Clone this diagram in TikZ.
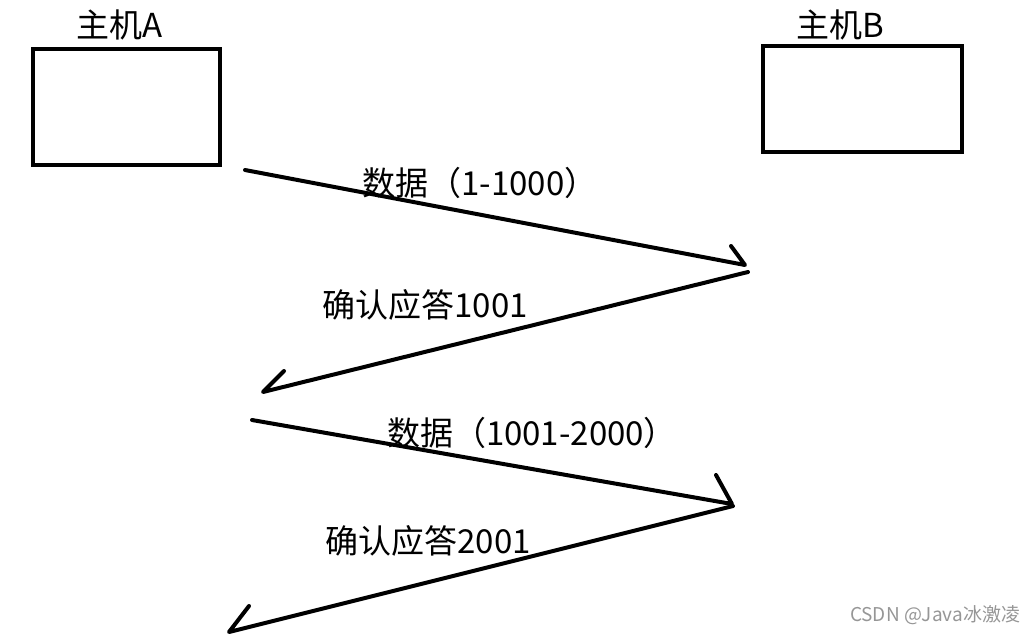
\documentclass[tikz,border=0pt]{standalone}
\usepackage{fontspec}
\setmainfont{Noto Sans CJK SC}
\definecolor{MarkGray}{RGB}{150,150,150}

\begin{document}
\begin{tikzpicture}[x=1pt, y=-1pt,
  host/.style={draw, line width=4pt, inner sep=0pt},
  lbl/.style={font=\fontsize{33}{37}\selectfont, inner sep=0pt},
  msg/.style={line width=4pt, line cap=round, line join=round}]
\useasboundingbox (0,0) rectangle (1033,635);

% hosts
\node[host, minimum width=187pt, minimum height=116pt] (hostA) at (126.5,107) {};
\node[host, minimum width=199pt, minimum height=106pt] (hostB) at (862.5,99) {};
\node[lbl] (nameA) at (120,25) {主机A};
\node[lbl] (nameB) at (840,25) {主机B};

% data 1-1000
\coordinate (s1) at (245,170);
\coordinate (t1) at (745,265);
\coordinate (b1) at (731,246);
\draw[msg] (s1) -- (t1) -- (b1);
\node[lbl] (data1) at (480,183) {数据（1-1000）};

% ack 1001
\coordinate (s2) at (748,272);
\coordinate (t2) at (263,392);
\coordinate (b2) at (284,371);
\draw[msg] (s2) -- (t2) -- (b2);
\node[lbl] (ack1) at (425,305) {确认应答1001};

% data 1001-2000
\coordinate (s3) at (252,420);
\coordinate (t3) at (732,504);
\coordinate (b3) at (716,475);
\draw[msg] (s3) -- (t3) -- (b3);
\node[lbl] (data2) at (532,433) {数据（1001-2000）};

% ack 2001
\coordinate (s4) at (733,506);
\coordinate (t4) at (229,632);
\coordinate (b4) at (249,606);
\draw[msg] (s4) -- (t4) -- (b4);
\node[lbl] (ack2) at (428,541) {确认应答2001};

% watermark
\node[font=\fontsize{19}{21}\selectfont, text=MarkGray, inner sep=0pt] (mark) at (935,615) {CSDN @Java冰激凌};
\end{tikzpicture}
\end{document}
